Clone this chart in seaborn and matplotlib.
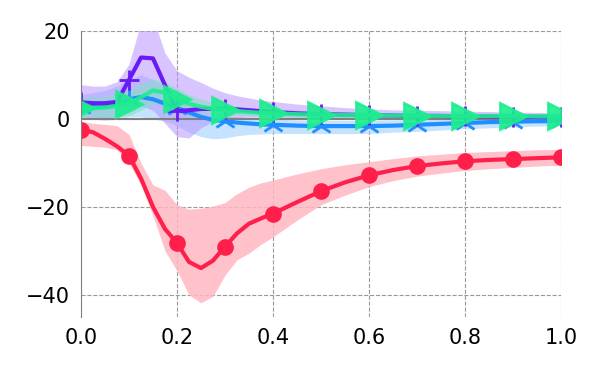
import matplotlib
matplotlib.use("Agg")
import matplotlib.pyplot as plt
import seaborn as sns

# Valores
x = [0.0, 0.025, 0.05, 0.075, 0.1, 0.125, 0.15, 0.175, 0.2, 0.225, 0.25, 0.275,
     0.3, 0.325, 0.35, 0.375, 0.4, 0.45, 0.5, 0.55, 0.6, 0.65, 0.7, 0.75, 0.8,
     0.85, 0.9, 0.95, 1.0]

red = [-2.4, -3.0, -4.5, -6.2, -8.3, -13.5, -20.0, -25.0, -28.2, -32.5, -33.9, -32.2,
       -29.0, -26.0, -23.8, -22.6, -21.5, -18.9, -16.4, -14.4, -12.8, -11.6, -10.7, -10.1,
       -9.6, -9.3, -9.1, -8.9, -8.7]
red_hi = [-0.5, -1.0, -1.2, -1.5, -3.5, -10.0, -15.0, -16.2, -19.5, -20.5, -20.3, -19.8,
          -19.0, -17.0, -15.5, -14.5, -13.9, -12.5, -11.3, -10.4, -9.7, -9.0, -8.4, -8.0,
          -7.6, -7.4, -7.2, -7.0, -6.9]
red_lo = [-6.0, -6.2, -6.4, -7.0, -10.0, -15.0, -22.0, -30.0, -34.5, -40.0, -41.8, -40.3,
          -35.5, -32.0, -30.5, -28.5, -26.8, -23.0, -19.5, -17.3, -15.4, -14.0, -13.0, -12.3,
          -11.7, -11.3, -11.0, -10.7, -10.5]

purple = [3.8, 3.6, 3.6, 3.9, 8.9, 14.0, 13.8, 7.7, 1.8, 2.0, 2.3, 2.3,
          2.3, 2.2, 2.0, 1.8, 1.6, 1.3, 1.1, 1.0, 0.9, 0.8, 0.7, 0.7,
          0.6, 0.6, 0.5, 0.5, 0.5]
purple_hi = [7.8, 7.5, 7.5, 8.5, 12.5, 22.0, 23.0, 15.0, 11.0, 9.5, 8.3, 7.0,
             6.0, 5.3, 4.8, 4.3, 4.0, 3.4, 3.0, 2.6, 2.3, 2.1, 2.0, 1.9,
             1.8, 1.7, 1.6, 1.5, 1.5]
purple_lo = [0.5, 0.3, 0.3, 0.5, 1.5, 3.0, 2.0, -1.0, -4.0, -4.3, -2.0, -0.5,
             0.0, 0.3, 0.4, 0.4, 0.4, 0.3, 0.2, 0.1, 0.0, 0.0, 0.0, 0.0,
             0.0, 0.0, 0.0, 0.0, 0.0]

blue = [2.7, 2.8, 3.0, 3.5, 4.5, 5.0, 4.5, 3.5, 2.5, 1.5, 0.5, -0.2,
        -0.5, -0.8, -1.0, -1.2, -1.3, -1.5, -1.6, -1.6, -1.6, -1.5, -1.3, -1.1,
        -0.9, -0.7, -0.6, -0.5, -0.5]
blue_hi = [5.5, 6.0, 6.5, 7.5, 9.0, 10.0, 9.0, 7.5, 5.5, 3.5, 2.0, 1.2,
           0.8, 0.5, 0.3, 0.1, 0.0, -0.2, -0.3, -0.3, -0.3, -0.2, -0.1, 0.0,
           0.1, 0.2, 0.2, 0.3, 0.3]
blue_lo = [0.0, 0.0, -0.3, 0.0, 0.5, 0.5, 0.0, -0.5, -1.5, -3.0, -4.0, -4.5,
           -4.3, -3.8, -3.5, -3.4, -3.3, -3.3, -3.3, -3.3, -3.3, -3.0, -2.8, -2.5,
           -2.2, -2.0, -1.8, -1.6, -1.5]

green = [2.5, 2.5, 2.6, 3.0, 3.5, 5.0, 6.5, 6.0, 4.5, 3.5, 2.8, 2.3,
         2.0, 1.8, 1.6, 1.4, 1.3, 1.1, 1.0, 0.9, 0.9, 0.8, 0.8, 0.7,
         0.7, 0.7, 0.7, 0.6, 0.6]
green_hi = [5.0, 5.0, 5.0, 5.5, 6.5, 8.0, 9.0, 8.5, 7.0, 5.5, 4.5, 3.8,
            3.3, 2.9, 2.5, 2.3, 2.2, 2.0, 1.8, 1.6, 1.5, 1.4, 1.3, 1.3,
            1.2, 1.1, 1.1, 1.0, 1.0]
green_lo = [0.0, 0.1, 0.3, 0.5, 0.8, 2.0, 3.5, 3.5, 2.5, 2.0, 1.5, 1.2,
            1.0, 0.8, 0.7, 0.6, 0.5, 0.4, 0.3, 0.3, 0.3, 0.2, 0.2, 0.2,
            0.2, 0.2, 0.2, 0.2, 0.2]

# índices dos marcadores (x = 0.0, 0.1, ..., 1.0)
mark_idx = [0, 4, 8, 12, 16, 18, 20, 22, 24, 26, 28]

sns.set_style("white")
plt.rcParams["font.family"] = ["DejaVu Sans"]

fig = plt.figure(figsize=(6, 3.75), dpi=100)
ax = fig.add_axes([0.135, 0.155, 0.8, 0.762])

# (linha, inferior, superior, cor, cor da faixa, alfa da faixa, marcador, tamanho)
series = [
    (red, red_lo, red_hi, "#ff1f4b", "#ffb6c1", 0.85, "o", 10),
    (blue, blue_lo, blue_hi, "#1f8fff", "#9fd0ff", 0.6, "2", 16),
    (purple, purple_lo, purple_hi, "#6a1bf5", "#b894ff", 0.55, "+", 14),
    (green, green_lo, green_hi, "#1ded8f", "#7fe0c0", 0.55, ">", 19),
]

for y, lo, hi, col, band, balpha, mk, ms in series:
    ax.fill_between(x, lo, hi, color=band, alpha=balpha, lw=0)
    sns.lineplot(x=x, y=y, ax=ax, color=col, lw=3, marker=mk, markersize=ms,
                 markevery=mark_idx, markeredgewidth=2, markeredgecolor=col,
                 sort=False)

# marcadores triangulares levemente transparentes
for line in ax.lines:
    if line.get_marker() == ">":
        line.set_alpha(0.9)

ax.axhline(0, color="grey", lw=1.5, zorder=1.5)
ax.set_xlim(0, 1)
ax.set_ylim(-45, 20)
ax.set_xticks([0.0, 0.2, 0.4, 0.6, 0.8, 1.0])
ax.set_yticks([-40, -20, 0, 20])
ax.grid(True, color="#999999", ls="--", lw=0.8)
ax.tick_params(labelsize=15, length=0, pad=8, labelcolor="black")
for side in ["top", "right", "bottom"]:
    ax.spines[side].set_visible(False)
ax.spines["left"].set_color("grey")
ax.set_xlabel("")
ax.set_ylabel("")

fig.savefig("out.png", dpi=100)
